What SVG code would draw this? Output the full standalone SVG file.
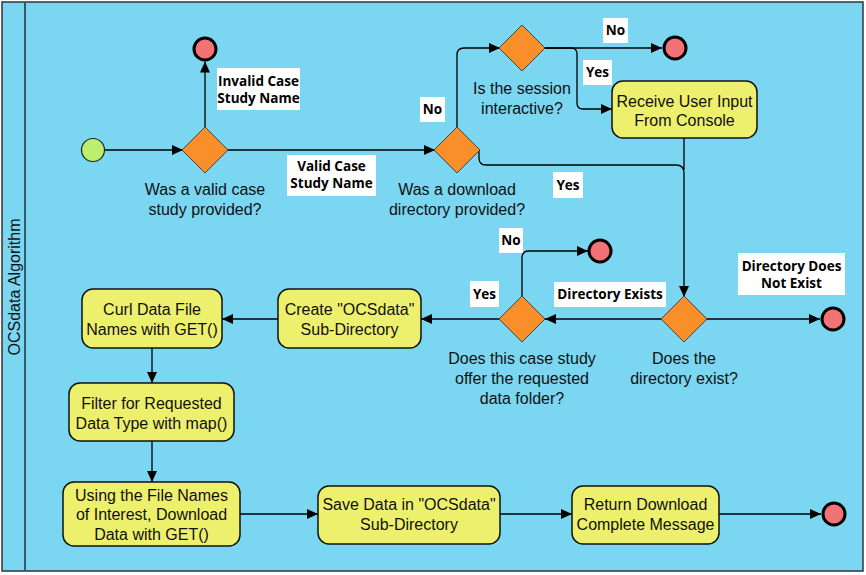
<svg xmlns="http://www.w3.org/2000/svg" width="866" height="575" viewBox="0 0 866 575">
<defs>
<marker id="arr" markerWidth="12" markerHeight="12" refX="11" refY="6" orient="auto" markerUnits="userSpaceOnUse">
<path d="M0,1 L11,6 L0,11 Z" fill="#000"/>
</marker>
<style>
.lane{fill:#7AD6F1;stroke:#333;stroke-width:1.5}
.div{stroke:#355a6a;stroke-width:2}
.task{fill:#EDF06C;stroke:#111;stroke-width:1.5}
.dia{fill:#F98F2A;stroke:#444;stroke-width:1}
.end{fill:#F27275;stroke:#000;stroke-width:3}
.start{fill:#BCEF6E;stroke:#222;stroke-width:1.2}
.t{font-family:"Liberation Sans",Arial,sans-serif;font-size:16px;fill:#111;text-anchor:middle}
.lb{font-family:"Open Sans","DejaVu Sans",sans-serif;font-weight:bold;font-size:13.5px;fill:#000;text-anchor:middle}
.lbox{fill:#fff}
.c{fill:none;stroke:#000;stroke-width:1.3}
.ttl{font-family:"Liberation Sans",Arial,sans-serif;font-size:16px;fill:#111;text-anchor:middle}
</style>
</defs>
<g id="lane">
<rect class="lane" x="2" y="2" width="861" height="569"/>
<line class="div" x1="25" y1="2" x2="25" y2="571"/>
<text class="ttl" transform="translate(20,287) rotate(-90)">OCSdata Algorithm</text>
</g>
<g id="connectors">
<path class="c" d="M104.5,150 H183" marker-end="url(#arr)"/>
<path class="c" d="M205,127 V61.5" marker-end="url(#arr)"/>
<path class="c" d="M228,150 H435" marker-end="url(#arr)"/>
<path class="c" d="M457,128 V55 Q457,48 464,48 H500" marker-end="url(#arr)"/>
<path class="c" d="M545,48 H662" marker-end="url(#arr)"/>
<path class="c" d="M545,48 H571 Q577,48 577,54 V103 Q577,109 583,109 H612" marker-end="url(#arr)"/>
<path class="c" d="M479,150 V158 Q479,165 486,165 H676 Q684,165 684,173 V297" marker-end="url(#arr)"/>
<path class="c" d="M684,138 V170"/>
<path class="c" d="M707,319 H820" marker-end="url(#arr)"/>
<path class="c" d="M662,319 H545" marker-end="url(#arr)"/>
<path class="c" d="M522,297 V258 Q522,251 529,251 H588" marker-end="url(#arr)"/>
<path class="c" d="M500,319 H421" marker-end="url(#arr)"/>
<path class="c" d="M278,319 H222" marker-end="url(#arr)"/>
<path class="c" d="M152,348 V383" marker-end="url(#arr)"/>
<path class="c" d="M152,441 V482" marker-end="url(#arr)"/>
<path class="c" d="M240,514 H318" marker-end="url(#arr)"/>
<path class="c" d="M500,514 H572" marker-end="url(#arr)"/>
<path class="c" d="M719,514 H821" marker-end="url(#arr)"/>
</g>
<g id="start"><circle class="start" cx="93" cy="150" r="11.5"/></g>
<g id="d1">
<polygon class="dia" points="205,127 228,150 205,173 182,150"/>
<text class="t" x="205" y="195">Was a valid case</text>
<text class="t" x="205" y="215">study provided?</text>
</g>
<g id="end1"><circle class="end" cx="205" cy="49" r="11"/></g>
<g id="d2">
<polygon class="dia" points="457,127 480,150 457,173 434,150"/>
<text class="t" x="457" y="195">Was a download</text>
<text class="t" x="457" y="215">directory provided?</text>
</g>
<g id="d3">
<polygon class="dia" points="522,25 545,48 522,71 499,48"/>
<text class="t" x="522" y="94">Is the session</text>
<text class="t" x="522" y="114">interactive?</text>
</g>
<g id="end2"><circle class="end" cx="675" cy="48" r="11"/></g>
<g id="receive">
<rect class="task" x="612" y="81" width="145" height="57" rx="11"/>
<text class="t" x="684.5" y="107">Receive User Input</text>
<text class="t" x="684.5" y="126">From Console</text>
</g>
<g id="d4">
<polygon class="dia" points="684,296 707,319 684,342 661,319"/>
<text class="t" x="684" y="364">Does the</text>
<text class="t" x="684" y="384">directory exist?</text>
</g>
<g id="end3"><circle class="end" cx="833" cy="319" r="11"/></g>
<g id="d5">
<polygon class="dia" points="522,296 545,319 522,342 499,319"/>
<text class="t" x="522" y="364">Does this case study</text>
<text class="t" x="522" y="384">offer the requested</text>
<text class="t" x="522" y="404">data folder?</text>
</g>
<g id="end4"><circle class="end" cx="600" cy="251" r="11"/></g>
<g id="create">
<rect class="task" x="278" y="289" width="143" height="59" rx="11"/>
<text class="t" x="349.5" y="315">Create "OCSdata"</text>
<text class="t" x="349.5" y="335">Sub-Directory</text>
</g>
<g id="curl">
<rect class="task" x="82" y="289" width="140" height="59" rx="11"/>
<text class="t" x="152" y="315">Curl Data File</text>
<text class="t" x="152" y="335">Names with GET()</text>
</g>
<g id="filter">
<rect class="task" x="69" y="383" width="165" height="58" rx="11"/>
<text class="t" x="151.5" y="409">Filter for Requested</text>
<text class="t" x="151.5" y="429">Data Type with map()</text>
</g>
<g id="using">
<rect class="task" x="63" y="482" width="177" height="64" rx="11"/>
<text class="t" x="151.5" y="501">Using the File Names</text>
<text class="t" x="151.5" y="520">of Interest, Download</text>
<text class="t" x="151.5" y="540">Data with GET()</text>
</g>
<g id="save">
<rect class="task" x="318" y="486" width="182" height="58" rx="11"/>
<text class="t" x="409" y="510">Save Data in "OCSdata"</text>
<text class="t" x="409" y="530">Sub-Directory</text>
</g>
<g id="return">
<rect class="task" x="572" y="486" width="147" height="58" rx="11"/>
<text class="t" x="645.5" y="510">Return Download</text>
<text class="t" x="645.5" y="530">Complete Message</text>
</g>
<g id="end5"><circle class="end" cx="834" cy="514" r="11"/></g>
<g id="labels">
<rect class="lbox" x="217" y="68" width="83" height="42"/>
<text class="lb" x="258.5" y="86">Invalid Case</text>
<text class="lb" x="258.5" y="103">Study Name</text>
<rect class="lbox" x="287" y="155" width="89" height="41"/>
<text class="lb" x="331.5" y="171">Valid Case</text>
<text class="lb" x="331.5" y="188">Study Name</text>
<rect class="lbox" x="420" y="97" width="25" height="25"/>
<text class="lb" x="432.5" y="114">No</text>
<rect class="lbox" x="603" y="18" width="25" height="25"/>
<text class="lb" x="615.5" y="35">No</text>
<rect class="lbox" x="583" y="60" width="29" height="25"/>
<text class="lb" x="597.5" y="77">Yes</text>
<rect class="lbox" x="553" y="172" width="30" height="26"/>
<text class="lb" x="568" y="190">Yes</text>
<rect class="lbox" x="499" y="228" width="24" height="25"/>
<text class="lb" x="511" y="245">No</text>
<rect class="lbox" x="470" y="281" width="29" height="26"/>
<text class="lb" x="484.5" y="299">Yes</text>
<rect class="lbox" x="554" y="282" width="112" height="25"/>
<text class="lb" x="610" y="299">Directory Exists</text>
<rect class="lbox" x="738" y="253" width="107" height="42"/>
<text class="lb" x="791.5" y="271">Directory Does</text>
<text class="lb" x="791.5" y="288">Not Exist</text>
</g>
</svg>
